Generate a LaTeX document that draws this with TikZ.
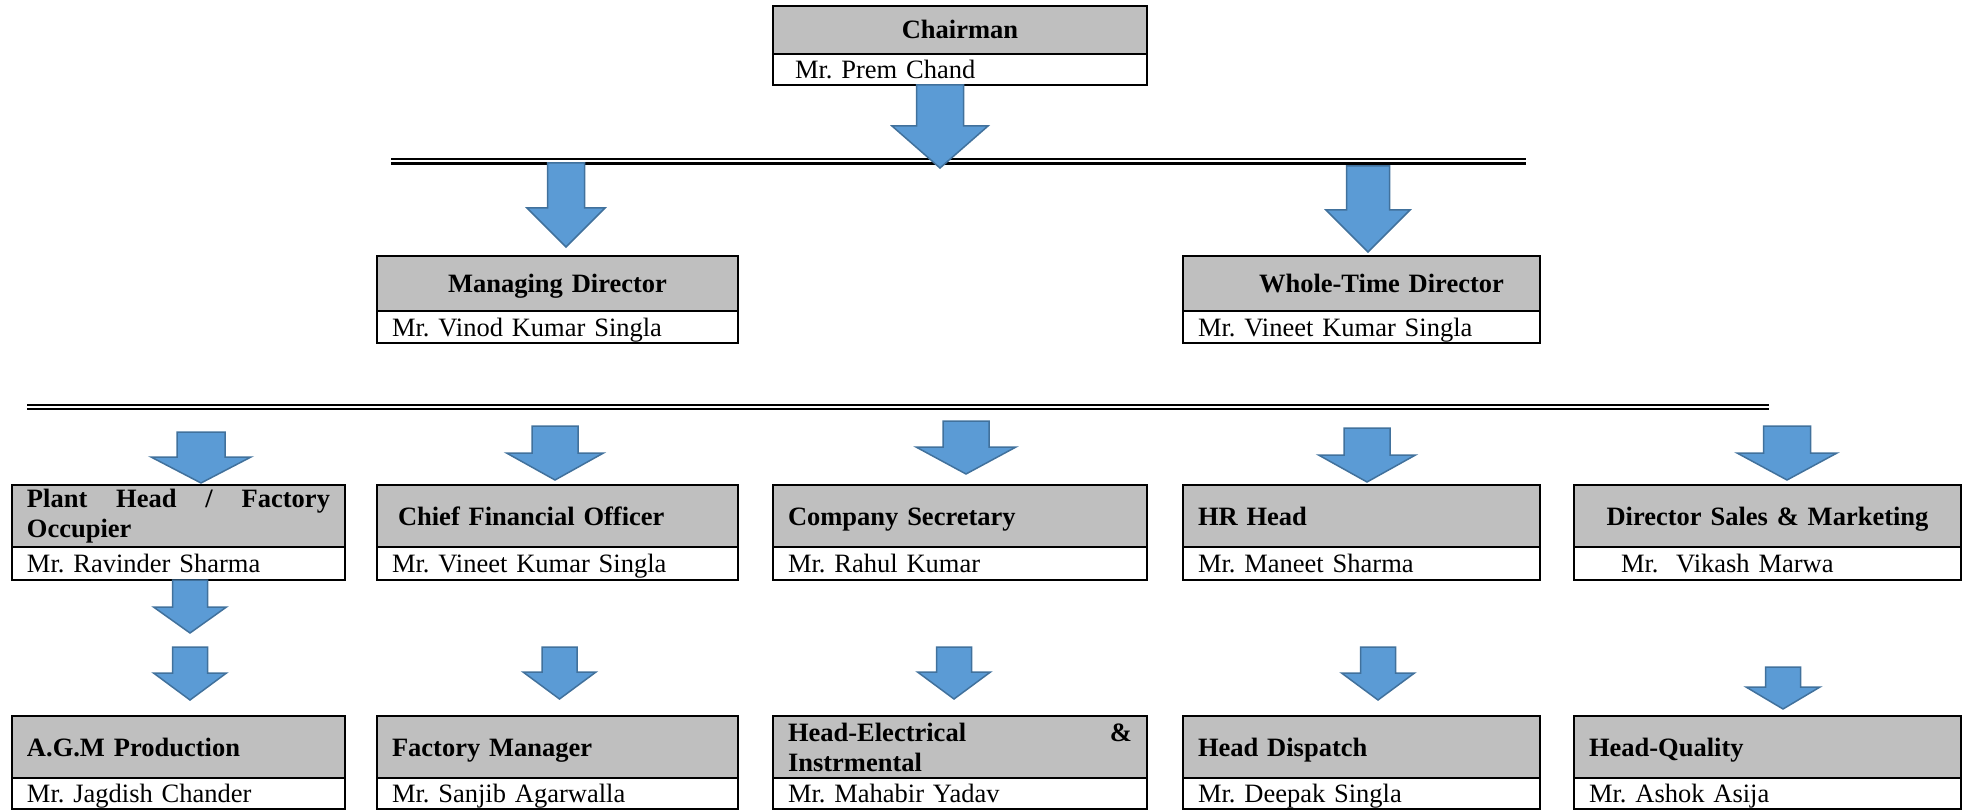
\documentclass[tikz,border=0pt]{standalone}
\usepackage{fontspec}
\setmainfont{Liberation Serif}
\frenchspacing
\usepackage{xcolor}
\usetikzlibrary{positioning}
\definecolor{boxgrey}{RGB}{191,191,191}
\definecolor{arrowblue}{RGB}{91,155,213}
\definecolor{arrowedge}{RGB}{65,113,156}
\newcommand{\blkarrow}[6]{%
  \draw[blk] (#1-#4,#2-#3) -- (#1+#4,#2-#3) -- (#1+#4,#2-#6) -- (#1+#5,#2-#6)
    -- (#1,#2) -- (#1-#5,#2-#6) -- (#1-#4,#2-#6) -- cycle;}

\begin{document}
\begin{tikzpicture}[
    x=1pt, y=-1pt,
    hd/.style={draw, line width=2pt, fill=boxgrey, anchor=north west, align=left,
               inner xsep=15pt, inner ysep=0pt, outer sep=0pt,
               font=\fontsize{26.5}{30}\selectfont\bfseries,
               text height=21pt, text depth=3pt},
    nm/.style={draw, line width=2pt, fill=white, anchor=north west, align=left,
               inner xsep=15pt, inner ysep=0pt, outer sep=0pt, minimum height=32pt,
               font=\fontsize{26.5}{30}\selectfont,
               text height=21pt, text depth=3pt},
    two/.style={text height={}, text depth={}},
    cA/.style={minimum width=333pt, text width=303pt},
    cB/.style={minimum width=361pt, text width=331pt},
    cC/.style={minimum width=374pt, text width=344pt},
    cD/.style={minimum width=357pt, text width=327pt},
    cE/.style={minimum width=387pt, text width=357pt},
    bus/.style={double, double distance=2pt, line width=2.3pt},
    blk/.style={draw=arrowedge, fill=arrowblue, line width=1.5pt}
]
    \useasboundingbox (0,0) rectangle (1967,810);

    \node[hd, cC, align=center, minimum height=48pt] (chair) at (773,6) {Chairman};
    \node[nm, cC, minimum height=31pt] (chairN) at (chair.south west) {\hspace*{7pt}Mr. Prem Chand};

    \node[hd, cB, align=center, minimum height=55pt] (md) at (377,256) {Managing Director};
    \node[nm, cB] (mdN) at (md.south west) {Mr. Vinod Kumar Singla};
    \node[hd, cD, minimum height=55pt] (wtd) at (1183,256) {\hspace*{61pt}Whole-Time Director};
    \node[nm, cD] (wtdN) at (wtd.south west) {Mr. Vineet Kumar Singla};

    \node[hd, cA, two, minimum height=62pt] (plant) at (12,485) {Plant\hfill Head\hfill /\hfill Factory\\Occupier};
    \node[nm, cA, minimum height=33pt] (plantN) at (plant.south west) {Mr. Ravinder Sharma};
    \node[hd, cB, minimum height=62pt] (cfo) at (377,485) {\hspace*{6pt}Chief Financial Officer};
    \node[nm, cB, minimum height=33pt] (cfoN) at (cfo.south west) {Mr. Vineet Kumar Singla};
    \node[hd, cC, minimum height=62pt] (cs) at (773,485) {Company Secretary};
    \node[nm, cC, minimum height=33pt] (csN) at (cs.south west) {Mr. Rahul Kumar};
    \node[hd, cD, minimum height=62pt] (hr) at (1183,485) {HR Head};
    \node[nm, cD, minimum height=33pt] (hrN) at (hr.south west) {Mr. Maneet Sharma};
    \node[hd, cE, align=center, minimum height=62pt] (dsm) at (1574,485) {Director Sales \& Marketing};
    \node[nm, cE, minimum height=33pt] (dsmN) at (dsm.south west) {\hspace*{32pt}Mr.~ Vikash Marwa};

    \node[hd, cA, minimum height=62pt] (agm) at (12,716) {A.G.M Production};
    \node[nm, cA, minimum height=31pt] (agmN) at (agm.south west) {Mr. Jagdish Chander};
    \node[hd, cB, minimum height=62pt] (fm) at (377,716) {Factory Manager};
    \node[nm, cB, minimum height=31pt] (fmN) at (fm.south west) {Mr. Sanjib Agarwalla};
    \node[hd, cC, two, minimum height=62pt] (he) at (773,716) {Head-Electrical\hfill\&\\Instrmental};
    \node[nm, cC, minimum height=31pt] (heN) at (he.south west) {Mr. Mahabir Yadav};
    \node[hd, cD, minimum height=62pt] (hd) at (1183,716) {Head Dispatch};
    \node[nm, cD, minimum height=31pt] (hdN) at (hd.south west) {Mr. Deepak Singla};
    \node[hd, cE, minimum height=62pt] (hq) at (1574,716) {Head-Quality};
    \node[nm, cE, minimum height=31pt] (hqN) at (hq.south west) {Mr. Ashok Asija};

    \coordinate (busA-w) at (391,161.5);
    \coordinate (busA-e) at (1526,161.5);
    \coordinate (busB-w) at (27,407);
    \coordinate (busB-e) at (1769,407);
    \draw[bus] (busA-w) -- (busA-e);
    \draw[bus] (busB-w) -- (busB-e);

    \blkarrow{940}{168}{83}{23.5}{48}{42}
    \blkarrow{566}{247}{84}{18.5}{39}{39}
    \blkarrow{1368}{252}{86}{21.5}{42}{42}

    \blkarrow{201}{483}{51}{24}{50}{26}
    \blkarrow{555}{480}{54}{23}{48.5}{27}
    \blkarrow{966}{474}{53}{23}{50}{27}
    \blkarrow{1367}{482}{54}{23}{48.5}{27}
    \blkarrow{1787}{480}{54}{23.5}{50}{27}

    \blkarrow{190}{633}{53}{17.5}{36.5}{26}
    \blkarrow{190}{700}{53}{17.5}{36.5}{27}
    \blkarrow{559.5}{699}{52}{17.5}{36.5}{27}
    \blkarrow{954}{699}{52}{17.5}{36.5}{27}
    \blkarrow{1378}{700}{53}{17.5}{36.5}{27}
    \blkarrow{1783}{709}{42}{17.5}{37}{22}
\end{tikzpicture}
\end{document}
